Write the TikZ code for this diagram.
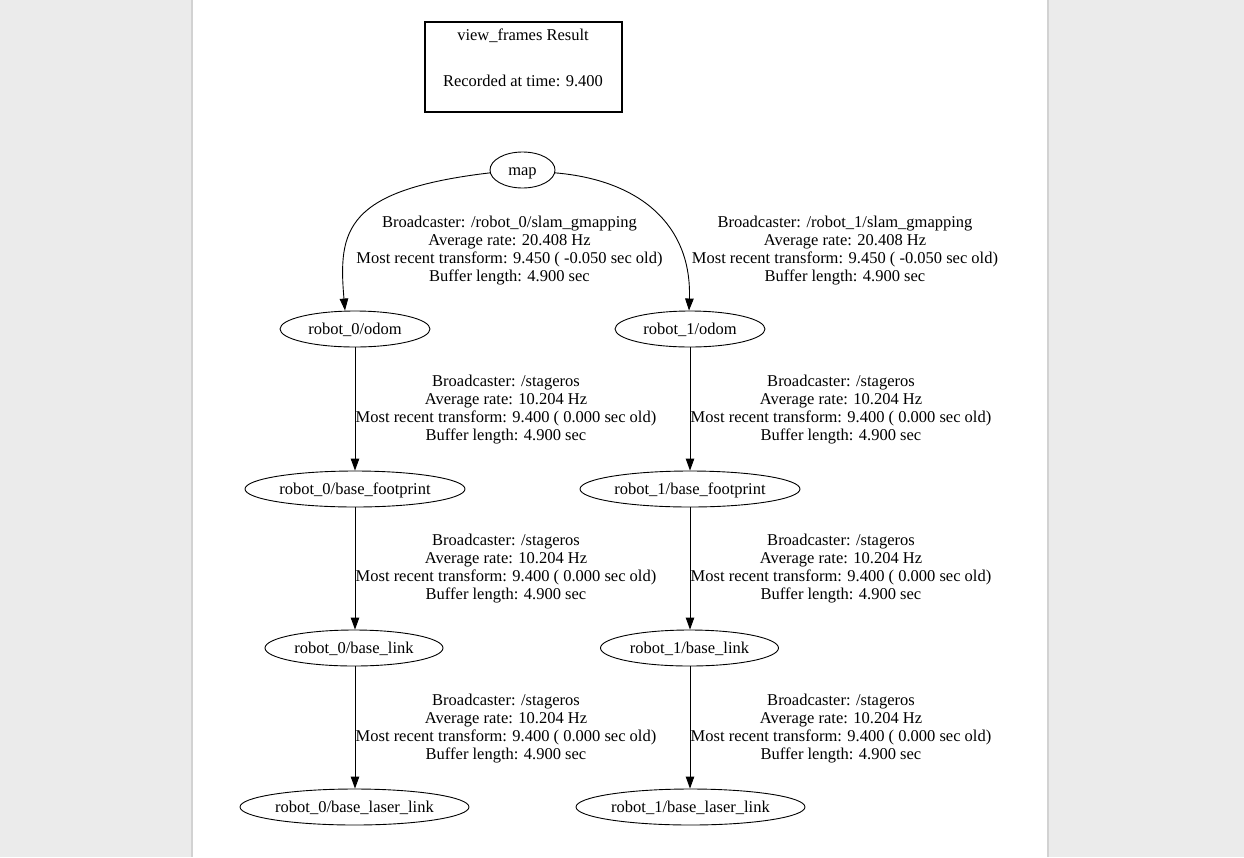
\documentclass[tikz,border=0pt]{standalone}
\usepackage{fontspec}
\setmainfont{Liberation Serif}
\usetikzlibrary{arrows.meta,shapes.geometric}
\definecolor{bggray}{HTML}{EBEBEB}
\definecolor{edgegray}{HTML}{D2D2D2}
\begin{document}
\begin{tikzpicture}[x=1pt,y=-1pt,
  every node/.style={font=\fontsize{16.5}{18}\selectfont},
  frame/.style={ellipse,draw,line width=0.9pt,inner sep=0pt,minimum height=36pt,text height=14.5pt,text depth=3pt},
  lbl/.style={align=center,inner sep=0pt},
  conn/.style={line width=0.9pt,-{Triangle[length=12pt,width=8.5pt]}}]
\fill[bggray] (0,0) rectangle (1244,857);
\fill[edgegray] (191,0) rectangle (1049,857);
\fill[white] (193,0) rectangle (1047,857);
\useasboundingbox (0,0) rectangle (1244,857);
% title
\node[draw,line width=2pt,minimum width=197pt,minimum height=90pt,inner sep=0pt] (title) at (523,66.5) {};
\node[inner sep=0pt] (t1) at (523,36) {view\_frames Result};
\node[inner sep=0pt] (t2) at (523,81) {Recorded at time: 9.400};
% frames
\node[frame,minimum width=65pt] (map) at (522.5,170) {map};
\node[frame,minimum width=150pt] (o0) at (355,329) {robot\_0/odom};
\node[frame,minimum width=150pt] (o1) at (690,329) {robot\_1/odom};
\node[frame,minimum width=220pt] (f0) at (355,489) {robot\_0/base\_footprint};
\node[frame,minimum width=220pt] (f1) at (690,489) {robot\_1/base\_footprint};
\node[frame,minimum width=178pt] (b0) at (354,648) {robot\_0/base\_link};
\node[frame,minimum width=178pt] (b1) at (689.5,648) {robot\_1/base\_link};
\node[frame,minimum width=229pt] (l0) at (354.5,807) {robot\_0/base\_laser\_link};
\node[frame,minimum width=229pt] (l1) at (690.5,807) {robot\_1/base\_laser\_link};
% connectors
\draw[conn] (map.185) .. controls (345,190) and (338,230) .. (o0.north -| 345,0);
\draw[conn] (map.-5) .. controls (640,180) and (692,225) .. (o1.north -| 689,0);
\draw[conn] (o0) -- (f0);
\draw[conn] (o1) -- (f1);
\draw[conn] (f0) -- (b0.north -| f0);
\draw[conn] (f1) -- (b1.north -| f1);
\draw[conn] (b0.south -| f0) -- (l0.north -| f0);
\draw[conn] (b1.south -| f1) -- (l1.north -| f1);
% labels
\node[lbl] (e1) at (509.5,250.5) {Broadcaster: /robot\_0/slam\_gmapping\\Average rate: 20.408 Hz\\Most recent transform: 9.450 ( -0.050 sec old)\\Buffer length: 4.900 sec};
\node[lbl] (e2) at (845,250.5) {Broadcaster: /robot\_1/slam\_gmapping\\Average rate: 20.408 Hz\\Most recent transform: 9.450 ( -0.050 sec old)\\Buffer length: 4.900 sec};
\node[lbl] (e3) at (506,410) {Broadcaster: /stageros\\Average rate: 10.204 Hz\\Most recent transform: 9.400 ( 0.000 sec old)\\Buffer length: 4.900 sec};
\node[lbl] (e4) at (841,410) {Broadcaster: /stageros\\Average rate: 10.204 Hz\\Most recent transform: 9.400 ( 0.000 sec old)\\Buffer length: 4.900 sec};
\node[lbl] (e5) at (506,569) {Broadcaster: /stageros\\Average rate: 10.204 Hz\\Most recent transform: 9.400 ( 0.000 sec old)\\Buffer length: 4.900 sec};
\node[lbl] (e6) at (841,569) {Broadcaster: /stageros\\Average rate: 10.204 Hz\\Most recent transform: 9.400 ( 0.000 sec old)\\Buffer length: 4.900 sec};
\node[lbl] (e7) at (506,729) {Broadcaster: /stageros\\Average rate: 10.204 Hz\\Most recent transform: 9.400 ( 0.000 sec old)\\Buffer length: 4.900 sec};
\node[lbl] (e8) at (841,729) {Broadcaster: /stageros\\Average rate: 10.204 Hz\\Most recent transform: 9.400 ( 0.000 sec old)\\Buffer length: 4.900 sec};
\end{tikzpicture}
\end{document}
